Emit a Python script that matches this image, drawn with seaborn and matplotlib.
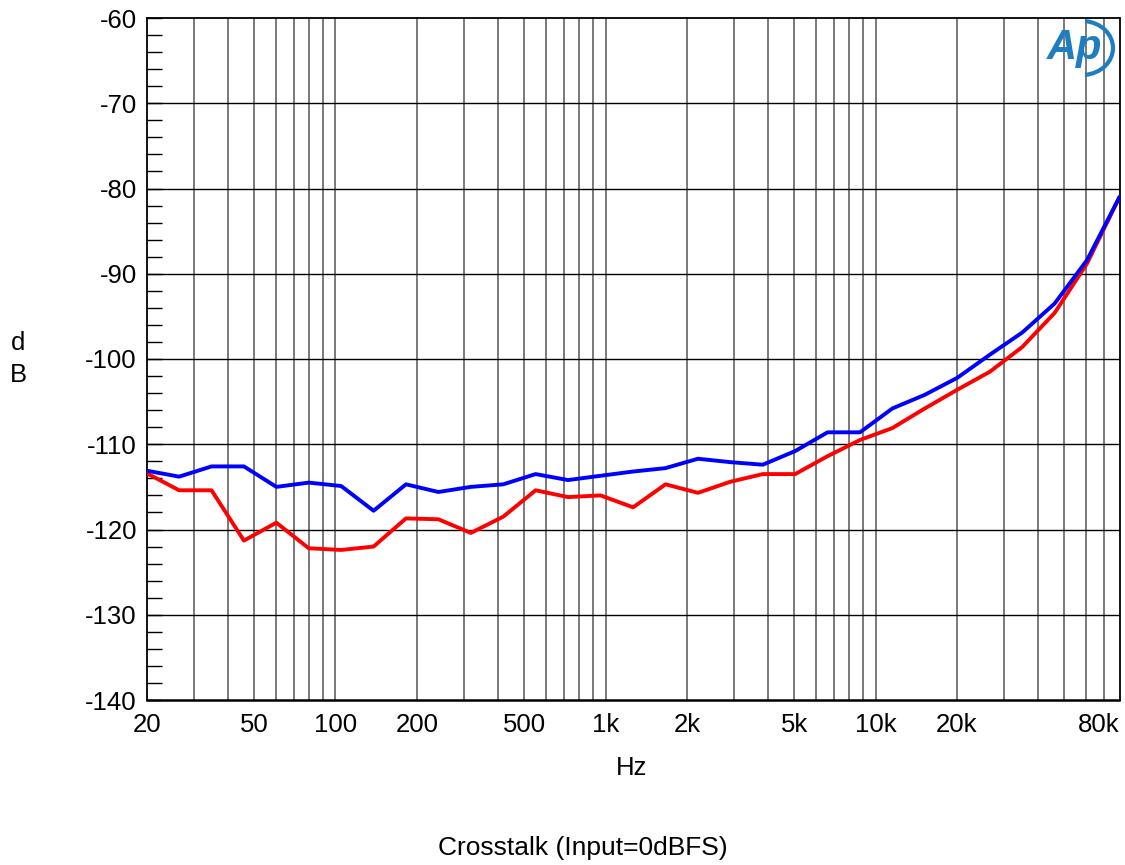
import numpy as np
import pandas as pd
import matplotlib
matplotlib.use("Agg")
import matplotlib.pyplot as plt
import seaborn as sns
from matplotlib.patches import Arc
from matplotlib.ticker import FixedLocator, NullFormatter

# ---- data ----
freq_hz = [20, 26.37, 34.76, 45.82, 60.41, 79.63, 104.98, 138.4, 182.4, 240.5,
           317.1, 418.0, 551.0, 726.4, 957.6, 1265, 1668, 2199, 2898, 3821,
           5037, 6640, 8754, 11540, 15214, 20080, 26470, 34896, 46002, 60644, 80000]
blue_db = [-113.1, -113.8, -112.6, -112.6, -115.0, -114.5, -114.9, -117.8, -114.7, -115.6,
           -115.0, -114.7, -113.5, -114.2, -113.7, -113.2, -112.8, -111.7, -112.1, -112.4,
           -110.8, -108.6, -108.6, -105.8, -104.2, -102.2, -99.5, -96.9, -93.5, -88.4, -81.0]
red_db = [-113.4, -115.4, -115.4, -121.3, -119.2, -122.2, -122.4, -122.0, -118.7, -118.8,
          -120.4, -118.5, -115.4, -116.2, -116.0, -117.4, -114.7, -115.7, -114.4, -113.5,
          -113.5, -111.4, -109.5, -108.1, -105.8, -103.6, -101.5, -98.6, -94.6, -88.8, -81.0]

xtick_vals = [20, 50, 100, 200, 500, 1000, 2000, 5000, 10000, 20000, 80000]
xtick_labels = ["20", "50", "100", "200", "500", "1k", "2k", "5k", "10k", "20k", "80k"]
ytick_vals = [-60, -70, -80, -90, -100, -110, -120, -130, -140]

df = pd.DataFrame({
    "Hz": freq_hz * 2,
    "dB": red_db + blue_db,
    "ch": ["red"] * len(freq_hz) + ["blue"] * len(freq_hz),
})

sns.set_theme(style="white")
plt.rcParams["font.family"] = ["Liberation Sans", "DejaVu Sans"]
plt.rcParams["axes.unicode_minus"] = False
plt.rcParams["text.color"] = "black"
FS = 18.5

fig = plt.figure(figsize=(11.25, 8.65), dpi=100)
ax = fig.add_axes([146.7 / 1125, 1 - 700 / 865, (1119.5 - 146.7) / 1125, (700 - 18) / 865])

sns.lineplot(data=df, x="Hz", y="dB", hue="ch",
             palette={"blue": "#0000ff", "red": "#ff0000"},
             hue_order=["red", "blue"], linewidth=2.8, legend=False, ax=ax,
             zorder=5)
ax.set_xscale("log")
ax.set_xlim(20, 80000)
ax.set_ylim(-140, -60)

# vertical grid at every 1..9 multiple
grid_x = [m * 10 ** e for e in range(1, 5) for m in range(1, 10)
          if 20 < m * 10 ** e < 80000]
for gx in grid_x:
    ax.axvline(gx, color="#6e6e6e", linewidth=1.3, zorder=1)
for gy in ytick_vals[1:-1]:
    ax.axhline(gy, color="black", linewidth=1.0, zorder=2)

ax.xaxis.set_major_locator(FixedLocator(xtick_vals))
ax.xaxis.set_minor_locator(FixedLocator([]))
ax.set_xticklabels(xtick_labels)
ax.xaxis.set_minor_formatter(NullFormatter())
ax.tick_params(axis="x", which="both", length=0, pad=9, labelsize=FS, colors="black")
ax.set_yticks(ytick_vals)
ax.set_yticks(np.arange(-140, -59, 2), minor=True)
ax.tick_params(axis="y", which="major", direction="in", length=11, width=1,
               pad=7, labelsize=FS, colors="black", left=True)
ax.tick_params(axis="y", which="minor", direction="in", length=11, width=1,
               colors="black", left=True)
lbls = ax.get_xticklabels()
lbls[-1].set_horizontalalignment("right")

for s in ax.spines.values():
    s.set_visible(True)
    s.set_color("black")
    s.set_linewidth(1.3)
ax.spines["bottom"].set_linewidth(1.8)

ax.set_xlabel("")
ax.set_ylabel("")
fig.text(632 / 1125, 1 - 768 / 865, "Hz", ha="center", va="center", fontsize=FS)
fig.text(18 / 1125, 1 - 343 / 865, "d", ha="center", va="center", fontsize=FS)
fig.text(18 / 1125, 1 - 375 / 865, "B", ha="center", va="center", fontsize=FS)
fig.text(583 / 1125, 1 - 848 / 865, "Crosstalk (Input=0dBFS)", ha="center",
         va="center", fontsize=19)

# AP logo approximation
logo_c = "#1f7dc1"
fig.text(1075 / 1125, 1 - 48 / 865, "Ap", ha="center", va="center", fontsize=30,
         fontstyle="italic", fontweight="bold", color=logo_c, zorder=10)
arc = Arc((1082 / 1125, 1 - 48 / 865), 62 / 1125, 54 / 865, theta1=-85, theta2=85,
          transform=fig.transFigure, color=logo_c, linewidth=3, zorder=10)
fig.add_artist(arc)

fig.savefig("out.png", dpi=100, facecolor="white")
